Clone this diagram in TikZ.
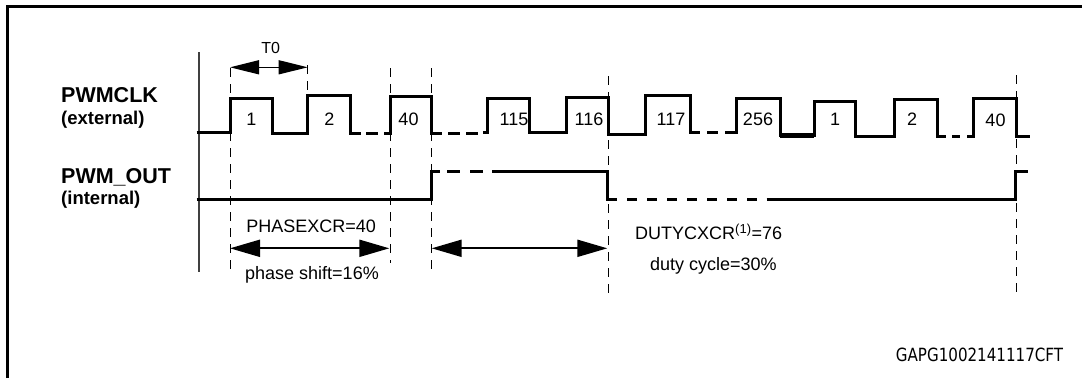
\documentclass[tikz,border=0pt]{standalone}
\usepackage{fontspec}
\setmainfont{Liberation Sans}
\newfontfamily\gapfont[FakeStretch=0.83]{DejaVu Sans}
\usetikzlibrary{arrows.meta}
\begin{document}
\begin{tikzpicture}[x=1pt,y=-1pt,
  wave/.style={line width=3pt, line join=miter, line cap=butt},
  guide/.style={line width=0.9pt, dash pattern=on 9pt off 7pt},
  dimarrow/.style={line width=2pt, {Triangle[length=30pt,width=17pt]}-{Triangle[length=30pt,width=17pt]}},
  tarrow/.style={line width=1.3pt, {Triangle[length=29pt,width=14pt]}-{Triangle[length=29pt,width=14pt]}},
  lbl/.style={font=\fontsize{18}{20}\selectfont, inner sep=0pt, anchor=base},
  sig/.style={font=\bfseries\fontsize{21.5}{24}\selectfont, inner sep=0pt, anchor=base west},
  sub/.style={font=\bfseries\fontsize{18.5}{20}\selectfont, inner sep=0pt, anchor=base west},
]
\useasboundingbox (0,0) rectangle (1082,378);
% frame
\draw[line width=2.6pt, line join=miter] (7.3,378) -- (7.3,6.2) -- (1082,6.2);
% time axis
\draw[line width=1.2pt, black!75] (199,52) -- (199,272);

% guide coordinates
\coordinate (gA1) at (230,68);    \coordinate (gA2) at (230,273);
\coordinate (gB1) at (307.7,65);  \coordinate (gB2) at (307.7,95);
\coordinate (gC1) at (390,68);    \coordinate (gC2) at (390,263);
\coordinate (gD1) at (431.7,68);  \coordinate (gD2) at (431.7,270);
\coordinate (gE1) at (608,76);    \coordinate (gE2) at (608,294);
\coordinate (gF1) at (1016.7,75); \coordinate (gF2) at (1016.7,292);
\foreach \s in {A,B,C,D,E,F} {\draw[guide] (g\s1) -- (g\s2);}

% PWMCLK waveform
\draw[wave] (196.7,132.7) -- (230,132.7) -- (230,98.3) -- (272.7,98.3) -- (272.7,133.3)
  -- (307.7,133.3) -- (307.7,95) -- (350,95) -- (350,133.3) -- (361,133.3);
\draw[wave] (366,133.3) -- (378,133.3);
\draw[wave] (384,133.3) -- (390.7,133.3) -- (390.7,96) -- (431.7,96) -- (431.7,133.3) -- (442,133.3);
\draw[wave] (448,133) -- (460,133);
\draw[wave] (466,133) -- (478,133);
\draw[wave] (483,132.7) -- (487.3,132.7) -- (487.3,98) -- (529.3,98) -- (529.3,132.7)
  -- (566,132.7) -- (566,97) -- (608.3,97) -- (608.3,134.3) -- (645,134.3) -- (645,95)
  -- (690,95) -- (690,132.7) -- (700,132.7);
\draw[wave] (707,132.7) -- (718,132.7);
\draw[wave] (725,132.7) -- (736,132.7) -- (736,98.3) -- (780,98.3) -- (780,135)
  -- (814.3,135) -- (814.3,101) -- (855,101) -- (855,136.7) -- (894.3,136.7) -- (894.3,99.3)
  -- (937.7,99.3) -- (937.7,136.7) -- (946,136.7);
\draw[line width=4.2pt] (780,135.4) -- (814.3,135.4);
\draw[wave] (952,136.7) -- (960,136.7);
\draw[wave] (967,136.7) -- (973.3,136.7) -- (973.3,98.3) -- (1016.7,98.3) -- (1016.7,136) -- (1030,136);

% pulse numbers
\node[lbl] (n1)   at (251.3,125) {1};
\node[lbl] (n2)   at (329.5,125) {2};
\node[lbl] (n40)  at (408.5,125) {40};
\node[lbl] (n115) at (514,125) {115};
\node[lbl] (n116) at (589,125) {116};
\node[lbl] (n117) at (671,125) {117};
\node[lbl] (n256) at (758,125) {256};
\node[lbl] (n1b)  at (835,125) {1};
\node[lbl] (n2b)  at (912,125) {2};
\node[lbl] (n40b) at (995.5,126.5) {40};

% PWM_OUT waveform
\draw[wave] (196.7,199.3) -- (431.7,199.3) -- (431.7,171) -- (440,171);
\draw[wave] (447,171) -- (460,171);
\draw[wave] (470,171) -- (483,171);
\draw[wave] (492,171) -- (607.3,171) -- (607.3,199.3) -- (617,199.3);
\foreach \a in {627,647,...,747} {\draw[wave] (\a,199.3) -- ++(10,0);}
\draw[wave] (766.7,199.3) -- (1015.5,199.3) -- (1015.5,171) -- (1027.7,171);

% signal names
\node[sig] (clk)  at (61,102.7) {PWMCLK};
\node[sub] (ext)  at (61,124)   {(external)};
\node[sig] (out)  at (61,183.3) {PWM\_OUT};
\node[sub] (int)  at (61,204)   {(internal)};

% T0
\coordinate (t0a) at (230,67.3);
\coordinate (t0b) at (307.7,67.3);
\draw[tarrow] (t0a) -- (t0b);
\node[lbl, font=\fontsize{16}{18}\selectfont] (t0) at (270.7,53.3) {T0};

% phase shift
\coordinate (pa) at (230,248.3);
\coordinate (pb) at (389.3,248.3);
\draw[dimarrow] (pa) -- (pb);
\node[lbl] (phx) at (311.2,232.7) {PHASEXCR=40};
\node[lbl] (phs) at (312,279.3) {phase shift=16\%};

% duty cycle
\coordinate (da) at (431.7,248.3);
\coordinate (db) at (607.3,248.3);
\draw[dimarrow] (da) -- (db);
\node[lbl, anchor=base west] (dcx) at (635,239.3) {DUTYCXCR\textsuperscript{\fontsize{13}{14}\selectfont(1)}=76};
\node[lbl] (dcy) at (713.3,270) {duty cycle=30\%};

% figure code
\node[inner sep=0pt, anchor=base east, font=\gapfont\fontsize{18.2}{20}\selectfont] (code) at (1063.3,361.7) {GAPG1002141117CFT};
\end{tikzpicture}
\end{document}
